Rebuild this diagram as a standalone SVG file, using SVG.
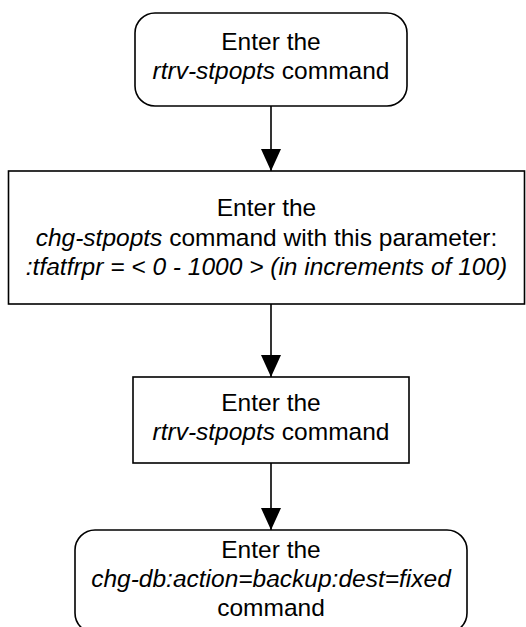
<svg xmlns="http://www.w3.org/2000/svg" width="526" height="627" viewBox="0 0 526 627">
<defs>
<style>
.box{fill:#fff;stroke:#000;stroke-width:1.6}
.t{font-family:"Liberation Sans",Arial,sans-serif;font-size:24.5px;fill:#000;text-anchor:middle}
.i{font-style:italic}
.c{stroke:#000;stroke-width:1.6;fill:none}
</style>
<marker id="ah" markerWidth="22" markerHeight="20" refX="22" refY="10" orient="auto" markerUnits="userSpaceOnUse" viewBox="0 0 22 20">
<path d="M0,0 L22,10 L0,20 Z" fill="#000"/>
</marker>
</defs>
<g id="connectors">
<line class="c" x1="271" y1="106" x2="271" y2="171" marker-end="url(#ah)"/>
<line class="c" x1="271" y1="304" x2="271" y2="377" marker-end="url(#ah)"/>
<line class="c" x1="271" y1="463" x2="271" y2="530" marker-end="url(#ah)"/>
</g>
<g id="n1">
<rect class="box" x="135" y="13" width="272" height="93" rx="20"/>
<text class="t" x="271" y="50">Enter the</text>
<text class="t" x="271" y="79"><tspan class="i">rtrv-stpopts</tspan> command</text>
</g>
<g id="n2">
<rect class="box" x="8.5" y="171" width="516" height="133"/>
<text class="t" x="266.5" y="216">Enter the</text>
<text class="t" x="266.5" y="245.5"><tspan class="i">chg-stpopts</tspan> command with this parameter:</text>
<text class="t i" x="266.5" y="275">:tfatfrpr = &lt; 0 - 1000 &gt; (in increments of 100)</text>
</g>
<g id="n3">
<rect class="box" x="133" y="377" width="276" height="86"/>
<text class="t" x="271" y="411">Enter the</text>
<text class="t" x="271" y="440"><tspan class="i">rtrv-stpopts</tspan> command</text>
</g>
<g id="n4">
<rect class="box" x="75" y="530" width="392" height="103" rx="20"/>
<text class="t" x="271" y="558">Enter the</text>
<text class="t i" x="271" y="587">chg-db:action=backup:dest=fixed</text>
<text class="t" x="271" y="616">command</text>
</g>
</svg>
